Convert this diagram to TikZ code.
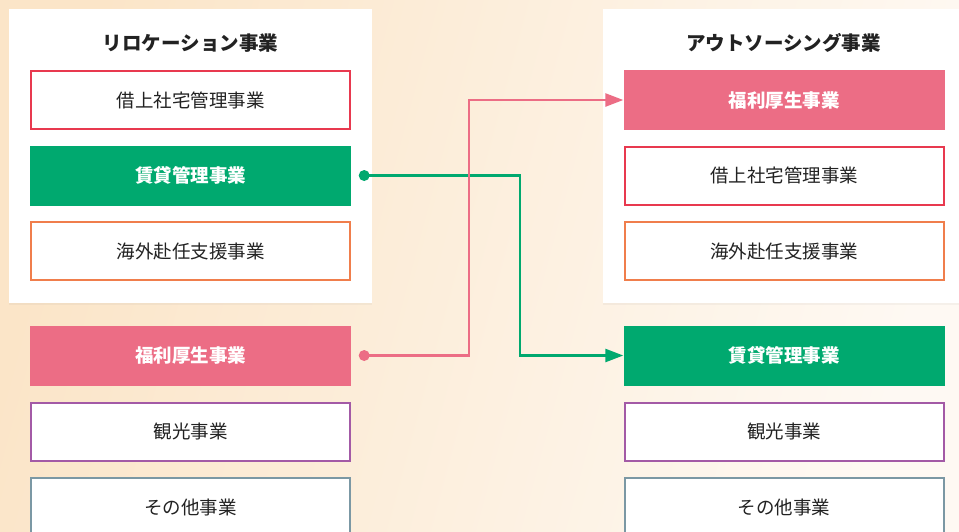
\documentclass[tikz,border=0pt]{standalone}
\usepackage{fontspec}
\setmainfont{Noto Sans CJK JP}
\usetikzlibrary{arrows.meta,shadows}
\definecolor{bgL}{HTML}{FBE5C8}
\definecolor{bgR}{HTML}{FEF9F3}
\definecolor{grn}{HTML}{00A96F}
\definecolor{pnk}{HTML}{EC6D85}
\definecolor{red}{HTML}{E8394F}
\definecolor{org}{HTML}{F07E4C}
\definecolor{prp}{HTML}{A35AA6}
\definecolor{slt}{HTML}{7B98A4}
\definecolor{ink}{HTML}{222222}
\begin{document}
\begin{tikzpicture}[x=1pt, y=-1pt,
	panel/.style={rectangle, fill=white, minimum width=363pt, minimum height=294pt, drop shadow={shadow xshift=0pt, shadow yshift=-1.5pt, opacity=0.07}},
	head/.style={font=\fontsize{19.5}{22}\selectfont\bfseries, text=ink},
	box/.style={draw, rectangle, line width=2pt, fill=white, minimum width=319pt, minimum height=58pt, inner sep=0pt, font=\fontsize{18.5}{21}\selectfont, text=ink},
	solid/.style={rectangle, minimum width=321pt, minimum height=60pt, inner sep=0pt, font=\fontsize{18.5}{21}\selectfont\bfseries, text=white},
	link/.style={line width=2.5pt, -{Triangle[length=18pt, width=13pt]}}]
					\useasboundingbox (0,0) rectangle (959,531);
					\shade[left color=bgL, right color=bgR, shading angle=75] (0,0) rectangle (959,531);
					% left column
					\node[panel] (relo)at(190.5, 156) {};
					\node[head] (reloT)at(190.5, 43) {リロケーション事業};
					\node[box, draw=red] (shakuL)at(190.5, 100) {借上社宅管理事業};
					\node[solid, fill=grn] (chinL)at(190.5, 175.5) {賃貸管理事業};
					\node[box, draw=org] (kaigaiL)at(190.5, 251) {海外赴任支援事業};
					\node[solid, fill=pnk] (fukuL)at(190.5, 355.5) {福利厚生事業};
					\node[box, draw=prp] (kankoL)at(190.5, 431.5) {観光事業};
					\node[box, draw=slt] (sonotaL)at(190.5, 507) {その他事業};
					% right column
					\node[panel] (out)at(784.5, 156) {};
					\node[head] (outT)at(783.5, 43) {アウトソーシング事業};
					\node[solid, fill=pnk] (fukuR)at(784, 100) {福利厚生事業};
					\node[box, draw=red] (shakuR)at(784, 175.5) {借上社宅管理事業};
					\node[box, draw=org] (kaigaiR)at(784, 251) {海外赴任支援事業};
					\node[solid, fill=grn] (chinR)at(784, 355.5) {賃貸管理事業};
					\node[box, draw=prp] (kankoR)at(784, 431.5) {観光事業};
					\node[box, draw=slt] (sonotaR)at(784, 507) {その他事業};
					% moves
					\coordinate (gdot) at ([xshift=13pt]chinL.east);
					\coordinate (pdot) at ([xshift=13pt]fukuL.east);
					\fill[grn] (gdot) circle (5.5pt);
					\fill[pnk] (pdot) circle (5.5pt);
					\draw[link, grn] (gdot) -- ++(156, 0) |- (chinR.west);
					\draw[link, pnk] (pdot) -- ++(105, 0) |- (fukuR.west);
				\end{tikzpicture}
\end{document}
